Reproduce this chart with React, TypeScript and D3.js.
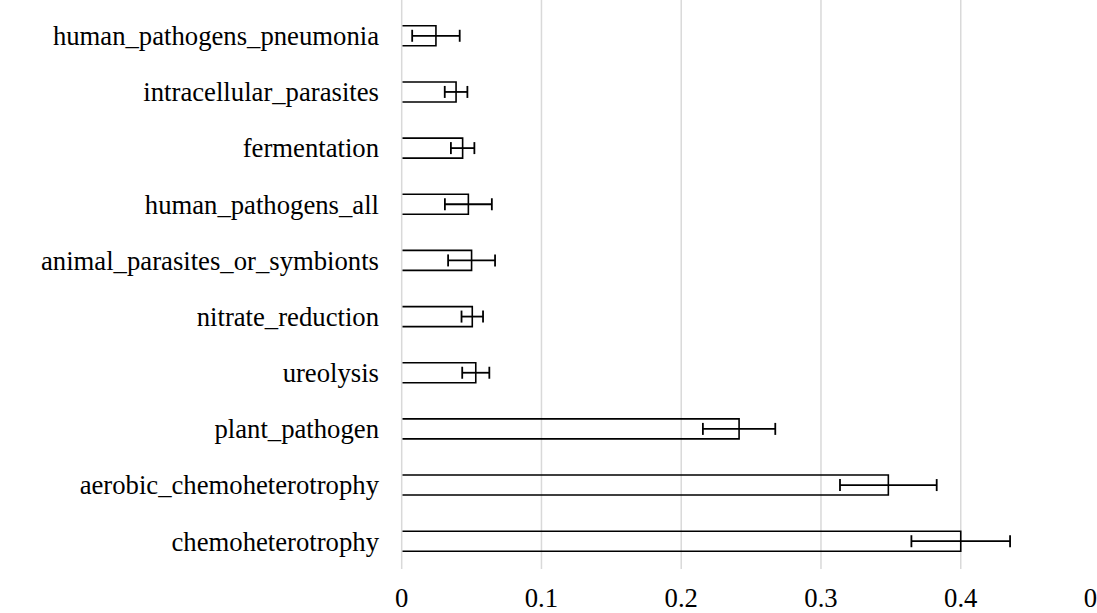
import React from 'react';
import * as d3 from 'd3';

const categories = [
  'human_pathogens_pneumonia',
  'intracellular_parasites',
  'fermentation',
  'human_pathogens_all',
  'animal_parasites_or_symbionts',
  'nitrate_reduction',
  'ureolysis',
  'plant_pathogen',
  'aerobic_chemoheterotrophy',
  'chemoheterotrophy',
];
const values = [0.0245, 0.0389, 0.0436, 0.0477, 0.0500, 0.0505, 0.0530, 0.2414, 0.3482, 0.4000];
const errors = [0.0170, 0.0081, 0.0084, 0.0168, 0.0168, 0.0077, 0.0097, 0.0259, 0.0346, 0.0353];
const ticks = [0, 0.1, 0.2, 0.3, 0.4, 0.5];

const W = 1097;
const H = 613;
const FONT = "'Liberation Serif', Tinos, 'Times New Roman', 'DejaVu Serif', serif";

const App = () => {
  const x = d3.scaleLinear().domain([0, 0.5]).range([401.7, 1100.5]);
  const y = d3
    .scaleBand()
    .domain(categories)
    .range([7.7, 569.3])
    .paddingInner(0.644)
    .paddingOuter(0.322);
  const bw = y.bandwidth();
  const textStyle = { fontFamily: FONT, fontSize: '26.7px' };

  return (
    <svg
      width={W}
      height={H}
      style={{ position: 'absolute', left: 0, top: 0, background: '#fff' }}
    >
      {/* gridlines */}
      {ticks.map(t => (
        <line
          key={'g' + t}
          x1={x(t)}
          x2={x(t)}
          y1={0}
          y2={569}
          stroke="#d9d9d9"
          strokeWidth={1.5}
        />
      ))}

      {/* bars, open on the left */}
      {categories.map((c, i) => {
        const top = y(c);
        const x0 = x(0) + 0.8;
        const xv = x(values[i]);
        return (
          <path
            key={'b' + c}
            d={`M${x0},${top}H${xv}V${top + bw}H${x0}`}
            fill="none"
            stroke="#000"
            strokeWidth={1.6}
          />
        );
      })}

      {/* error bars */}
      {categories.map((c, i) => {
        const cy = y(c) + bw / 2;
        const lo = x(values[i] - errors[i]);
        const hi = x(values[i] + errors[i]);
        return (
          <g key={'e' + c} stroke="#000" strokeWidth={1.8}>
            <line x1={lo} x2={hi} y1={cy} y2={cy} />
            <line x1={lo} x2={lo} y1={cy - 6} y2={cy + 6} />
            <line x1={hi} x2={hi} y1={cy - 6} y2={cy + 6} />
          </g>
        );
      })}

      {/* category labels */}
      {categories.map(c => (
        <text
          key={'l' + c}
          x={379}
          y={y(c) + bw / 2}
          dy="0.35em"
          textAnchor="end"
          style={textStyle}
          fill="#000"
        >
          {c}
        </text>
      ))}

      {/* tick labels (0.5 sits at the right edge and is clipped, as in the source) */}
      {ticks.map(t => (
        <text
          key={'t' + t}
          x={x(t)}
          y={607}
          textAnchor="middle"
          style={textStyle}
          fill="#000"
        >
          {d3.format('~g')(t)}
        </text>
      ))}
    </svg>
  );
};

export default App;
